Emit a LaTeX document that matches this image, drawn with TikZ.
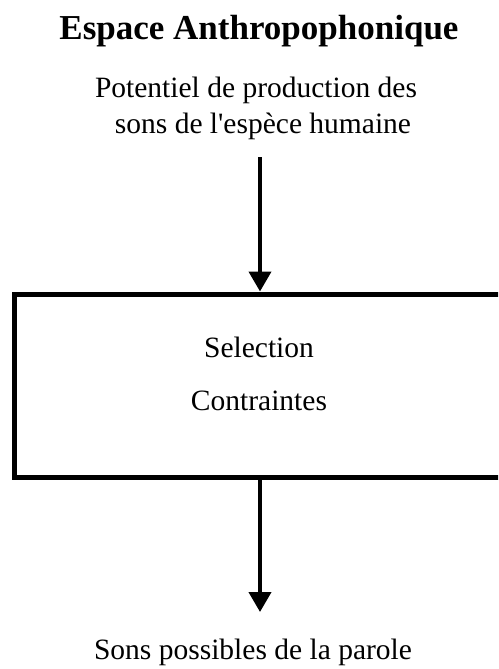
\documentclass[tikz,border=0pt]{standalone}
\usepackage{fontspec}
\setmainfont{Liberation Serif}[Ligatures=TeXOff]
\usetikzlibrary{arrows.meta}

\begin{document}
\begin{tikzpicture}[x=1pt,y=-1pt,>={Triangle[width=22pt,length=20pt]}]
	\tikzset{txt/.style={anchor=base,inner sep=0pt,font=\fontsize{29.5}{37}\selectfont},
		fleche/.style={->,line width=4pt}}
	\useasboundingbox (0,0) rectangle (498,669);
	\clip (0,0) rectangle (498,669);
	\node[txt,font=\fontsize{35}{42}\selectfont\bfseries] (titre) at (259,39.5) {Espace Anthropophonique};
	\node[txt] (pot1) at (256,97) {Potentiel de production des};
	\node[txt] (pot2) at (263,133) {sons de l'espèce humaine};
	\node[draw,line width=5pt,minimum width=491pt,minimum height=183pt,inner sep=0pt] (boite) at (260,385.5) {};
	\node[txt] (sel) at (259,357) {Selection};
	\node[txt] (contr) at (259,410) {Contraintes};
	\node[txt] (sons) at (253,659) {Sons possibles de la parole};
	\coordinate (haut) at (260,157);
	\coordinate (bas) at (260,612);
	\draw[fleche] (haut) -- (boite.north);
	\draw[fleche] (boite.south) -- (bas);
\end{tikzpicture}
\end{document}
